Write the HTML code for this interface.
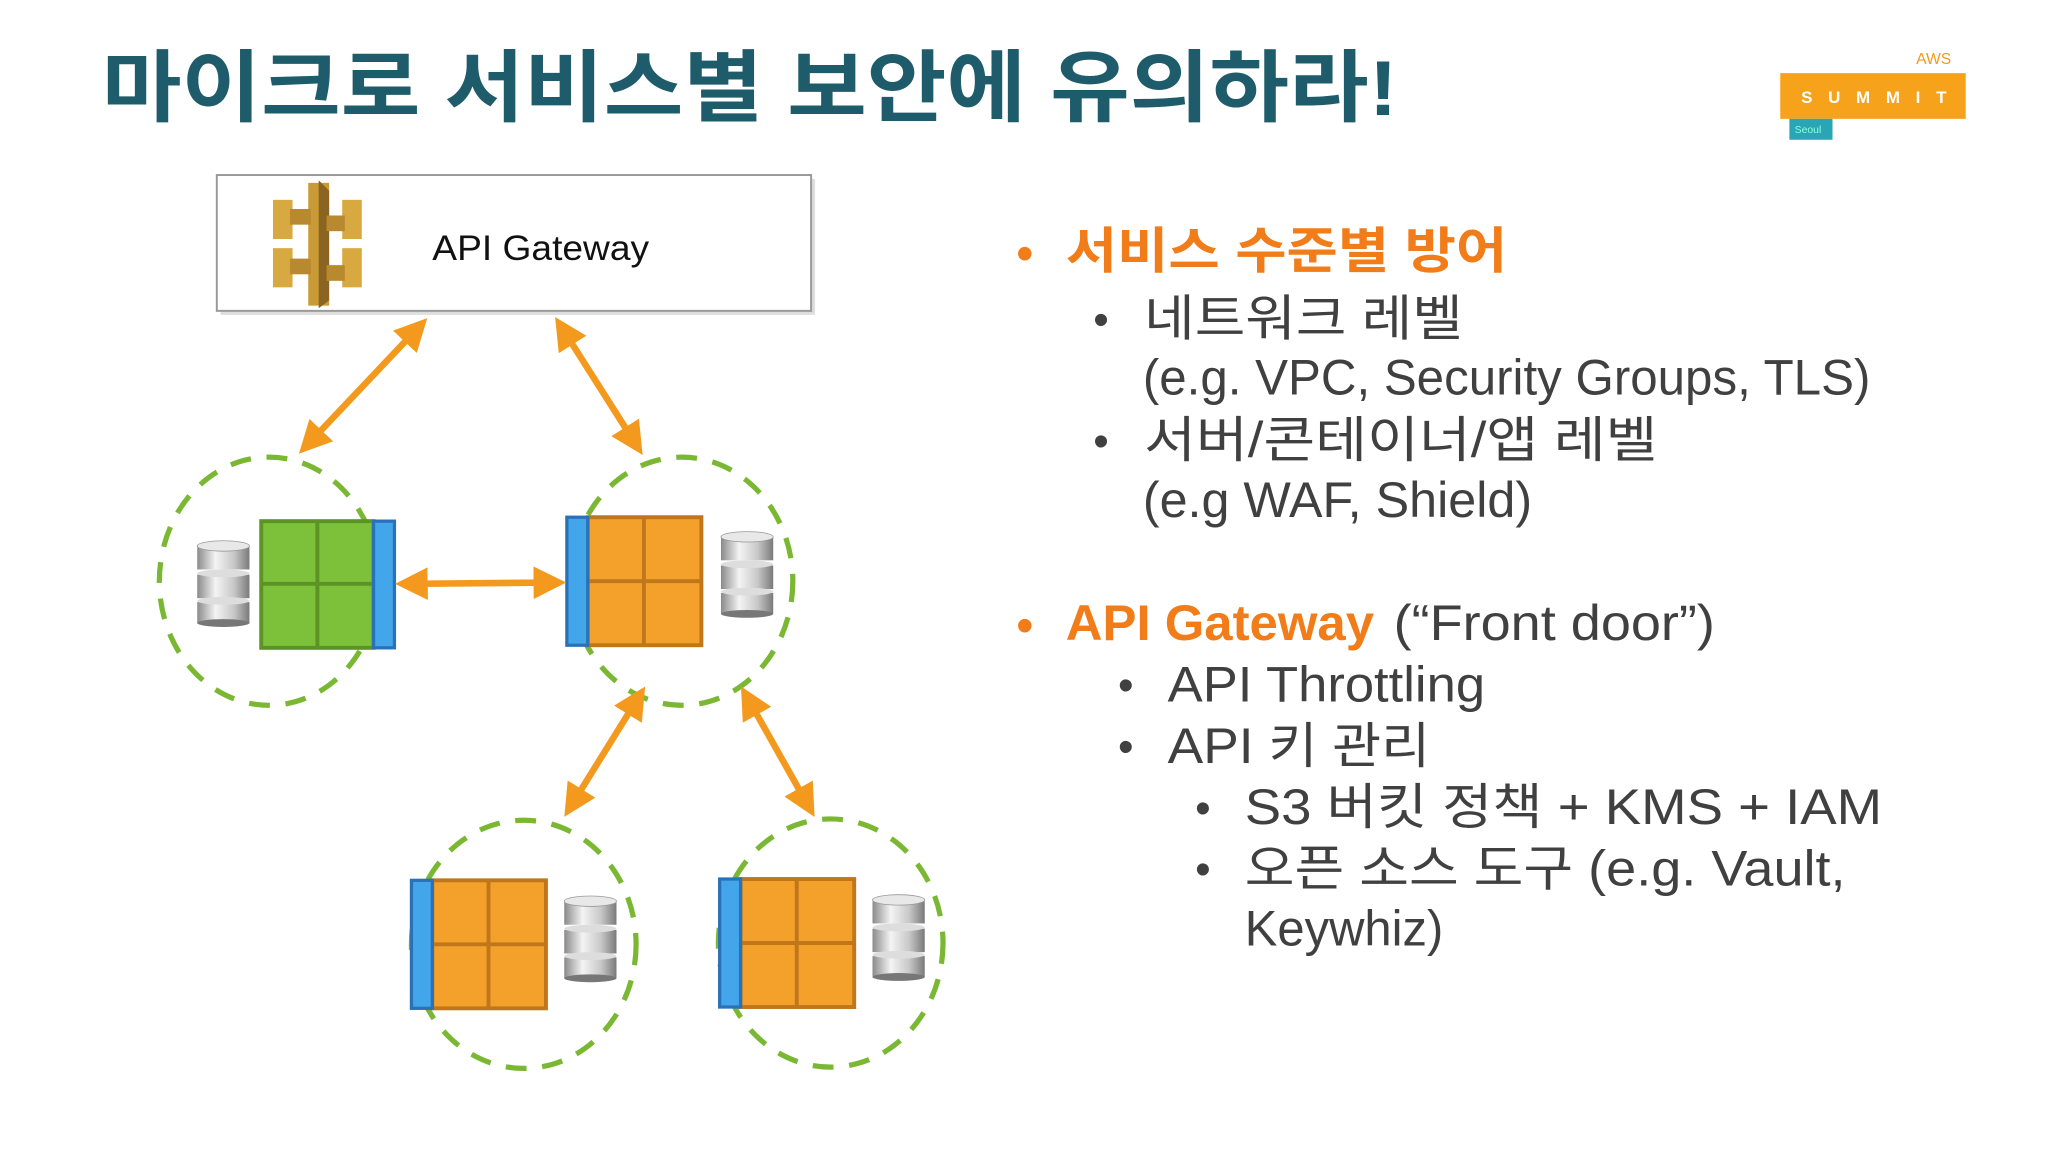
<!DOCTYPE html>
<html><head><meta charset="utf-8"><style>
html,body{margin:0;padding:0;background:#fff;}
svg{display:block;}
text{font-family:"Liberation Sans","Noto Sans CJK KR",sans-serif;}
</style></head><body>
<svg width="2048" height="1152" viewBox="0 0 1568 882" xmlns="http://www.w3.org/2000/svg">
<defs>
<marker id="ah" viewBox="0 0 10 10" refX="7" refY="5" markerWidth="5" markerHeight="5" orient="auto-start-reverse" markerUnits="strokeWidth">
<path d="M0,0 L10,5 L0,10 z" fill="#f39a1e"/></marker>
<linearGradient id="cyl" x1="0" x2="1" y1="0" y2="0">
<stop offset="0" stop-color="#8a8a8a"/><stop offset="0.35" stop-color="#f4f4f4"/><stop offset="0.7" stop-color="#c8c8c8"/><stop offset="1" stop-color="#7a7a7a"/></linearGradient>
<g id="db">
<rect x="0" y="4" width="40" height="18" fill="url(#cyl)"/><ellipse cx="20" cy="4" rx="20" ry="4" fill="#e8e8e8" stroke="#999" stroke-width="0.6"/>
<rect x="0" y="26" width="40" height="18" fill="url(#cyl)"/><ellipse cx="20" cy="25" rx="20" ry="3" fill="#ddd"/>
<rect x="0" y="47" width="40" height="16" fill="url(#cyl)"/><ellipse cx="20" cy="46" rx="20" ry="3" fill="#ddd"/>
<ellipse cx="20" cy="63" rx="20" ry="3" fill="#777"/>
</g>
<g id="ob">
<rect x="17" y="0" width="87" height="98" fill="#f4a12c" stroke="#c0761b" stroke-width="3"/>
<line x1="60" y1="0" x2="60" y2="98" stroke="#c0761b" stroke-width="3"/>
<line x1="17" y1="49" x2="104" y2="49" stroke="#c0761b" stroke-width="3"/>
<rect x="1" y="0" width="16" height="98" fill="#44a6ea" stroke="#2a72b8" stroke-width="2.5"/>
</g>
</defs>

<text x="78" y="88" font-size="60" font-weight="bold" fill="#1f5c6b" textLength="992" lengthAdjust="spacingAndGlyphs">마이크로 서비스별 보안에 유의하라!</text>

<text x="1467" y="49" font-size="12" fill="#f39a1e">AWS</text>
<rect x="1363" y="56" width="142" height="35" fill="#f7a21b"/>
<text x="1379" y="79" font-size="13" font-weight="bold" fill="#fff" letter-spacing="12">SUMMIT</text>
<rect x="1370" y="91" width="33" height="16" fill="#2aa5b5"/>
<text x="1374" y="102" font-size="8" fill="#8fd">Seoul</text>

<rect x="169" y="137" width="455" height="104" fill="#ddd"/>
<rect x="166" y="134" width="455" height="104" fill="#fff" stroke="#999" stroke-width="1.5"/>
<g fill="#d9a941">
<rect x="236" y="140" width="16" height="94" fill="#c99a35"/>
<path d="M244,138 L252,146 L252,230 L244,236 Z" fill="#8a6420"/>
<rect x="209" y="153" width="15" height="30"/><rect x="262" y="153" width="15" height="30"/>
<rect x="209" y="190" width="15" height="30"/><rect x="262" y="190" width="15" height="30"/>
<rect x="222" y="160" width="16" height="12" fill="#b8892e"/><rect x="250" y="165" width="14" height="12" fill="#b8892e"/>
<rect x="222" y="198" width="16" height="12" fill="#b8892e"/><rect x="250" y="203" width="14" height="12" fill="#b8892e"/>
</g>
<text x="331" y="199" font-size="27" fill="#111" textLength="166" lengthAdjust="spacingAndGlyphs">API Gateway</text>

<g fill="none" stroke="#7ab833" stroke-width="4" stroke-dasharray="16 12">
<ellipse cx="206" cy="445" rx="84" ry="95"/><ellipse cx="522" cy="445" rx="85" ry="95"/>
<ellipse cx="401" cy="723" rx="86" ry="95"/><ellipse cx="636" cy="722" rx="86" ry="95"/>
</g>

<rect x="200" y="399" width="86" height="97" fill="#7dc03a" stroke="#5b9424" stroke-width="3"/>
<line x1="243" y1="399" x2="243" y2="496" stroke="#5b9424" stroke-width="3"/>
<line x1="200" y1="447" x2="286" y2="447" stroke="#5b9424" stroke-width="3"/>
<rect x="286" y="399" width="16" height="97" fill="#44a6ea" stroke="#2a72b8" stroke-width="2.5"/>
<use href="#ob" x="433" y="396"/>
<use href="#ob" x="314" y="674"/>
<use href="#ob" x="550" y="673"/>

<use href="#db" x="151" y="414"/>
<use href="#db" x="552" y="407"/>
<use href="#db" x="432" y="686"/>
<use href="#db" x="668" y="685"/>

<g stroke="#f39a1e" stroke-width="5" fill="none" marker-start="url(#ah)" marker-end="url(#ah)">
<line x1="322" y1="249" x2="234" y2="342"/>
<line x1="429" y1="249" x2="488" y2="342"/>
<line x1="310" y1="447" x2="426" y2="446"/>
<line x1="490" y1="532" x2="436" y2="619"/>
<line x1="571" y1="532" x2="620" y2="619"/>
</g>

<g font-size="38" fill="#404040">
<text x="778" y="207" fill="#f07d1a" font-size="38">•</text>
<text x="816" y="205" font-weight="bold" fill="#f07d1a" textLength="338" lengthAdjust="spacingAndGlyphs">서비스 수준별 방어</text>
<text x="837" y="256" font-size="34">•</text>
<text x="876" y="257" textLength="244" lengthAdjust="spacingAndGlyphs">네트워크 레벨</text>
<text x="875" y="302" textLength="557" lengthAdjust="spacingAndGlyphs">(e.g. VPC, Security Groups, TLS)</text>
<text x="837" y="349" font-size="34">•</text>
<text x="876" y="350" textLength="393" lengthAdjust="spacingAndGlyphs">서버/콘테이너/앱 레벨</text>
<text x="875" y="396" textLength="298" lengthAdjust="spacingAndGlyphs">(e.g WAF, Shield)</text>

<text x="778" y="492" fill="#f07d1a" font-size="38">•</text>
<text x="816" y="490" font-weight="bold" fill="#f07d1a" textLength="236" lengthAdjust="spacingAndGlyphs">API Gateway</text>
<text x="1067" y="490" textLength="246" lengthAdjust="spacingAndGlyphs">(“Front door”)</text>
<text x="856" y="536" font-size="34">•</text>
<text x="894" y="537" textLength="243" lengthAdjust="spacingAndGlyphs">API Throttling</text>
<text x="856" y="583" font-size="34">•</text>
<text x="894" y="584" textLength="201" lengthAdjust="spacingAndGlyphs">API 키 관리</text>
<text x="915" y="630" font-size="34">•</text>
<text x="953" y="631" textLength="488" lengthAdjust="spacingAndGlyphs">S3 버킷 정책 + KMS + IAM</text>
<text x="915" y="677" font-size="34">•</text>
<text x="953" y="678" textLength="460" lengthAdjust="spacingAndGlyphs">오픈 소스 도구 (e.g. Vault,</text>
<text x="953" y="724" textLength="152" lengthAdjust="spacingAndGlyphs">Keywhiz)</text>
</g>
</svg>
</body></html>
